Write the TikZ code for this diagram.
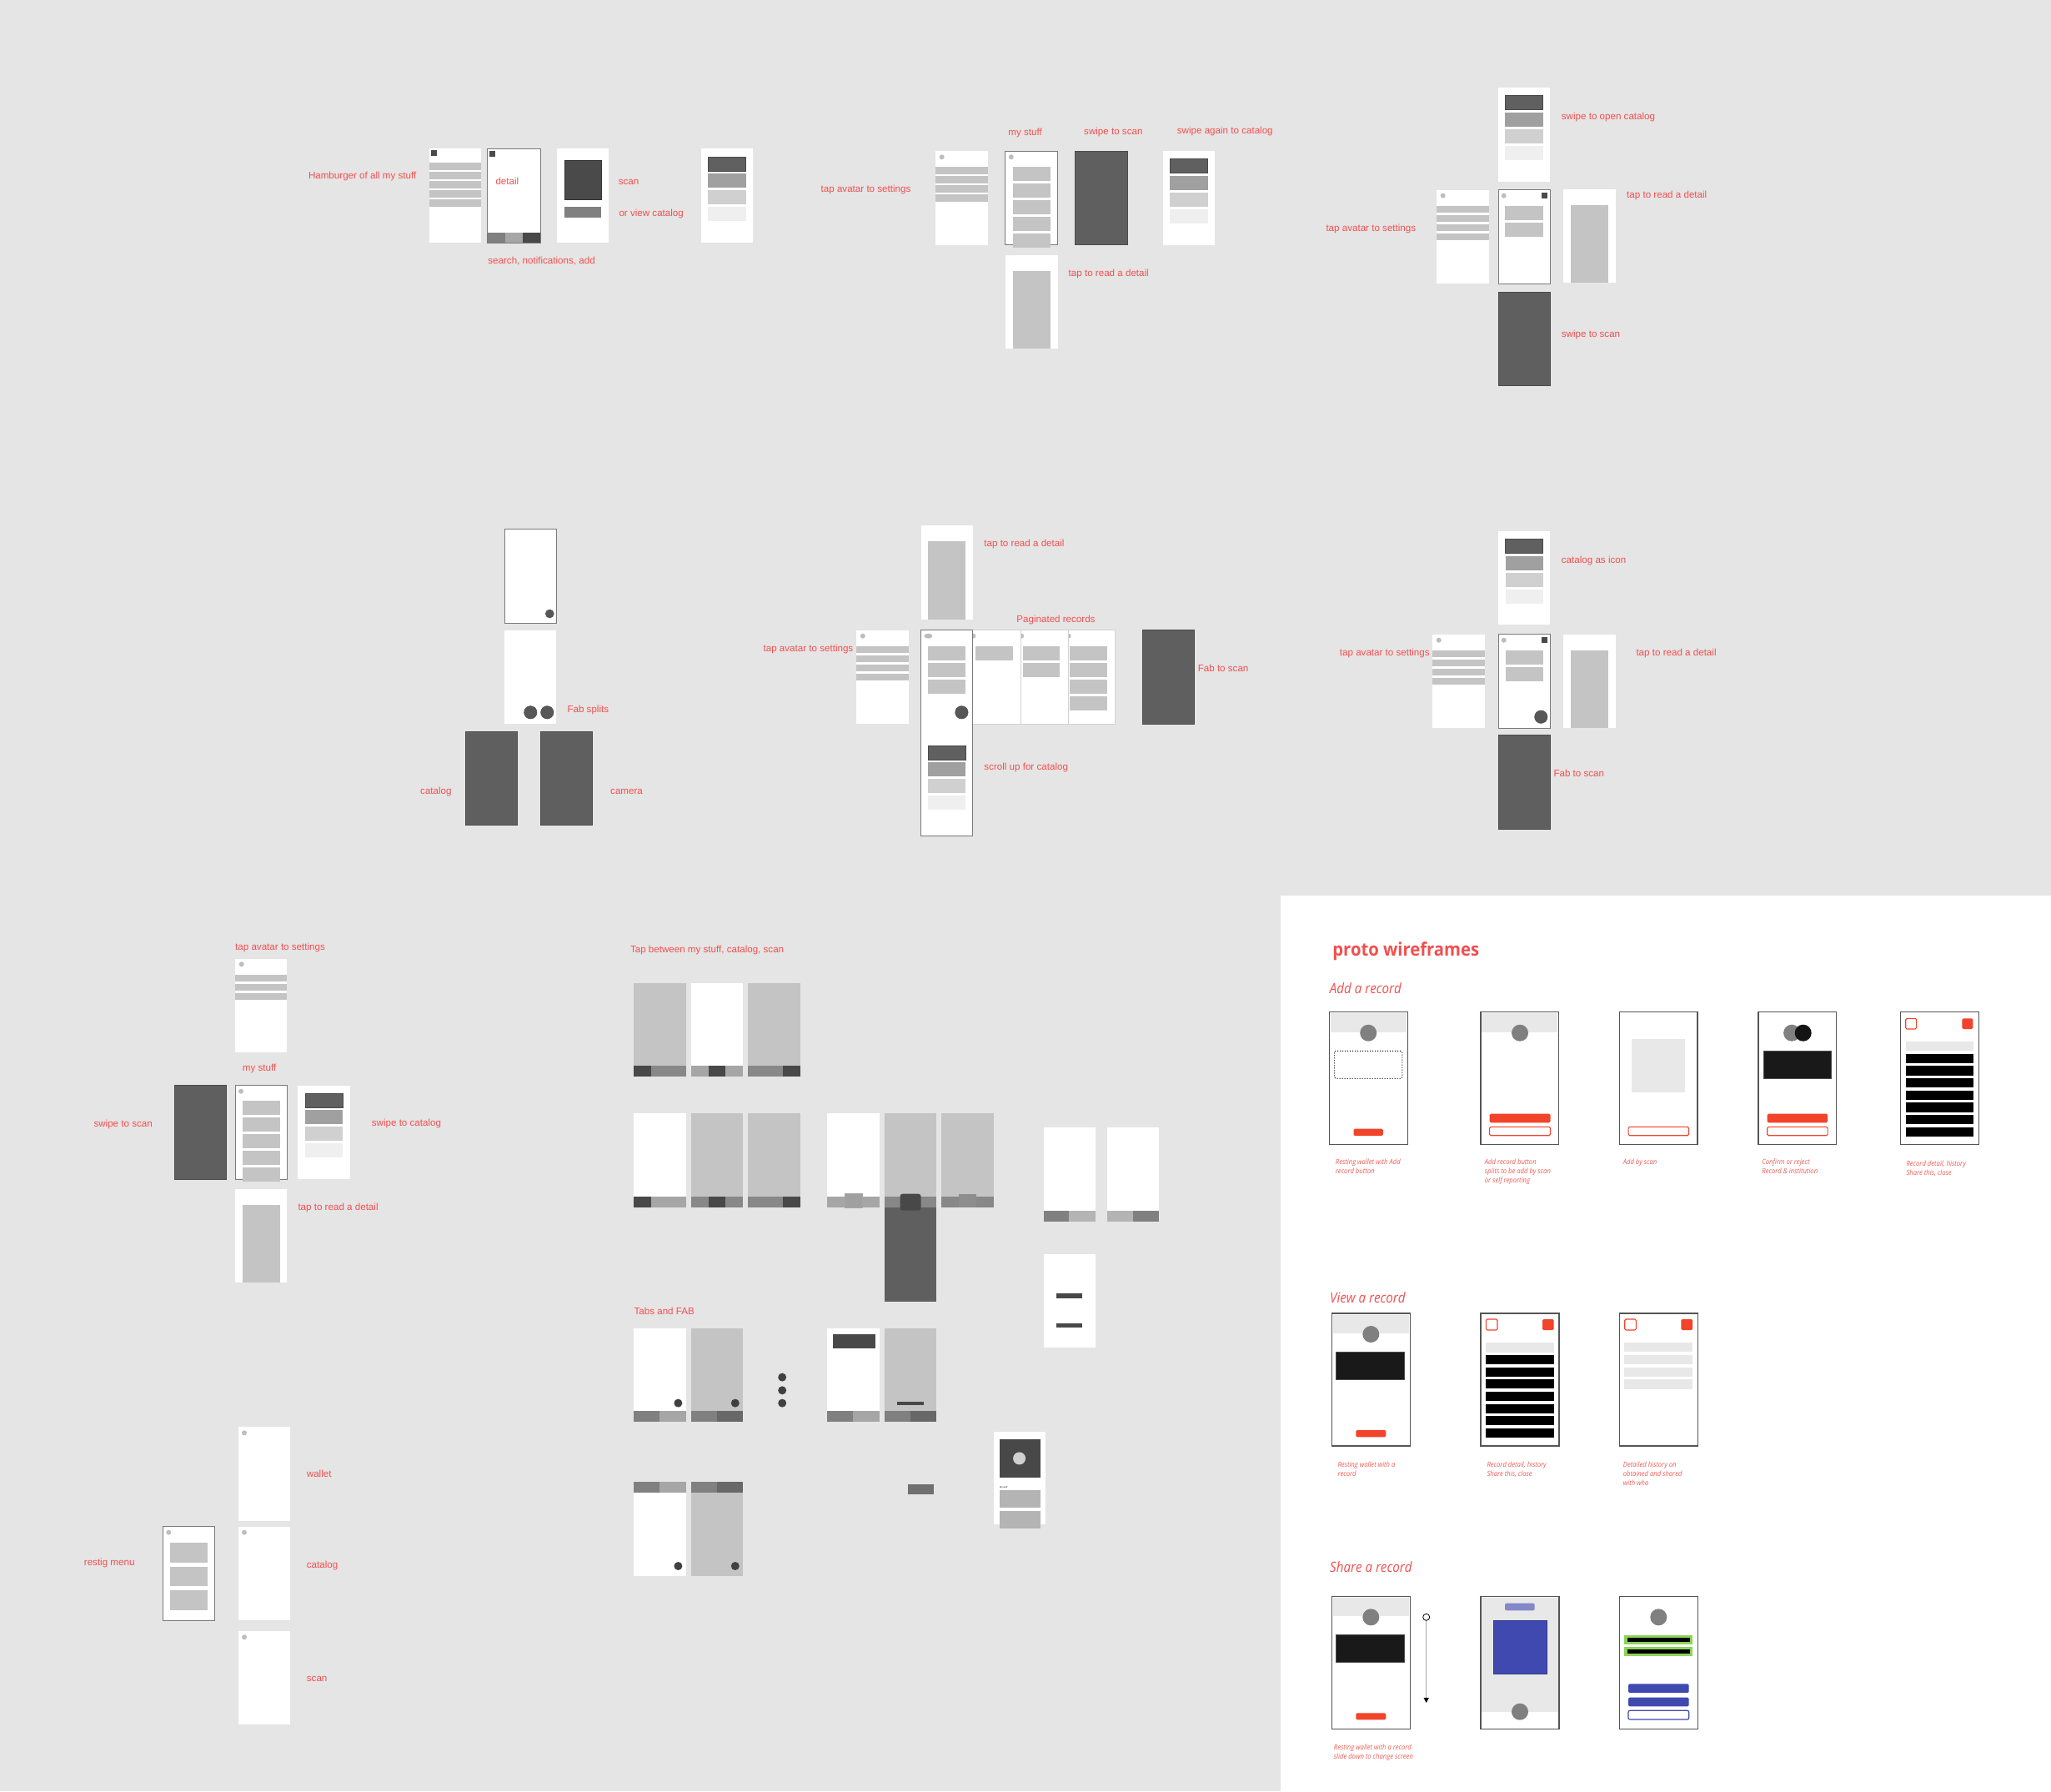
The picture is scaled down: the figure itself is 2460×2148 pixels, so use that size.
\documentclass[tikz,border=0pt]{standalone}
\usepackage{fontspec}
\setmainfont{Liberation Sans}
\newfontfamily\protofont[FakeStretch=0.92]{Open Sans}
\newfontfamily\notefont[FakeStretch=0.89]{Open Sans}
\usetikzlibrary{arrows.meta}
\definecolor{Canvas}{HTML}{E5E5E5}
\definecolor{LabelRed}{HTML}{F24F4F}
\definecolor{BarGray}{HTML}{C4C4C4}
\definecolor{AvatarGray}{HTML}{BDBDBD}
\definecolor{FrameGray}{HTML}{7A7A7A}
\definecolor{ScanGray}{HTML}{5F5F5F}
\definecolor{ScanEdge}{HTML}{4C4C4C}
\definecolor{IconDark}{HTML}{4A4A4A}
\definecolor{CatA}{HTML}{606060}
\definecolor{CatB}{HTML}{A0A0A0}
\definecolor{CatC}{HTML}{D0D0D0}
\definecolor{CatD}{HTML}{EFEFEF}
\definecolor{FabGray}{HTML}{575757}
\definecolor{FabDark}{HTML}{404040}
\definecolor{PageEdge}{HTML}{D2D2D2}
\definecolor{TabDark}{HTML}{484848}
\definecolor{TabMid}{HTML}{888888}
\definecolor{TabMidB}{HTML}{808080}
\definecolor{TabLight}{HTML}{A6A6A6}
\definecolor{TabDeep}{HTML}{686868}
\definecolor{TabPale}{HTML}{B4B4B4}
\definecolor{WireEdge}{HTML}{555555}
\definecolor{HeaderGray}{HTML}{E8E8E8}
\definecolor{DiscGray}{HTML}{808080}
\definecolor{RecordBlack}{HTML}{191919}
\definecolor{ButtonRed}{HTML}{F2432B}
\definecolor{CaptionRed}{HTML}{EE5A52}
\definecolor{ShareBlue}{HTML}{4049B0}
\definecolor{ShareBlueLight}{HTML}{8288C8}
\definecolor{ShareGreen}{HTML}{8CD35A}
\tikzset{
  flowlabel/.style={text=LabelRed, font=\fontsize{11.6}{14}\selectfont, inner sep=0pt, anchor=base west},
  plainscreen/.style={fill=white},
  framedscreen/.style={fill=white, draw=FrameGray, line width=1pt},
  scanscreen/.style={fill=ScanGray, draw=ScanEdge, line width=0.7pt},
  pagescreen/.style={fill=white, draw=PageEdge, line width=1pt},
  greyscreen/.style={fill=BarGray},
  avatar/.style={fill=AvatarGray},
  fab/.style={fill=FabGray, draw=IconDark, line width=0.5pt},
  darkfab/.style={fill=FabDark},
  wirescreen/.style={fill=white, draw=WireEdge, line width=1.3pt},
  wireheader/.style={fill=HeaderGray},
  wiredisc/.style={fill=DiscGray},
  redbutton/.style={fill=ButtonRed, rounded corners=1.5pt},
  redoutline/.style={draw=ButtonRed, line width=1.1pt, fill=white, rounded corners=1.5pt},
  blackbar/.style={fill=black},
  protitle/.style={text=LabelRed, font=\protofont\bfseries\fontsize{22}{26}\selectfont, inner sep=0pt, anchor=base west},
  sectiontitle/.style={text=LabelRed, font=\notefont\itshape\fontsize{17}{19}\selectfont, inner sep=0pt, anchor=base west},
  wirecaption/.style={text=CaptionRed, font=\notefont\itshape\fontsize{8.6}{10.9}\selectfont, inner sep=0pt, anchor=north west, align=left}
}
% settings list: pitch 11, bar height 8.4
\newcommand{\listbars}[4]{\foreach \k in {1,...,#4} \fill[BarGray] (#1,{#3+11*(\k-1)}) rectangle (#2,{#3+11*(\k-1)+8.4});}
% my stuff list: pitch 20, bar height 17
\newcommand{\stackbars}[4]{\foreach \k in {1,...,#4} \fill[BarGray] (#1,{#3+20*(\k-1)}) rectangle (#2,{#3+20*(\k-1)+17});}
% catalog: four shades
\newcommand{\catbars}[3]{%
  \foreach \tone [count=\k from 0] in {CatA,CatB,CatC,CatD} \fill[\tone] (#1,{#3+20*\k}) rectangle (#2,{#3+20*\k+17});
  \draw[IconDark, line width=0.6pt] (#1,#3) rectangle (#2,#3+17);}

\begin{document}
\begin{tikzpicture}[x=1pt, y=-1pt]
\useasboundingbox (0,0) rectangle (2460,2148);
\fill[Canvas] (0,0) rectangle (2460,2148);

% ---- hamburger
\node[flowlabel] (g1-hamburger) at (369.8,214) {Hamburger of all my stuff};
\path[plainscreen] (514.7,178) rectangle (577.1,291);
\fill[IconDark] (516.8,180) rectangle (523.8,187);
\listbars{514.7}{577.1}{195.3}{5}
\path[framedscreen] (584.8,178.3) rectangle (648,291.7);
\fill[IconDark] (587.3,180.5) rectangle (594.3,187.5);
\node[flowlabel] (g1-detail) at (594.3,221.7) {detail};
\fill[TabMidB] (585.3,278.7) rectangle (605.5,291.2);
\fill[TabLight] (605.5,278.7) rectangle (626.6,291.2);
\fill[TabDark] (626.6,278.7) rectangle (647.5,291.2);
\node[flowlabel] (g1-search) at (585.2,316.3) {search, notifications, add};
\path[plainscreen] (667.6,178.3) rectangle (730.4,291);
\filldraw[fill=IconDark, draw=black!80, line width=0.5pt] (677.4,192.3) rectangle (721.3,239);
\fill[TabMidB] (677.4,248) rectangle (721.3,260.7);
\node[flowlabel] (g1-scan) at (741.6,221.3) {scan};
\node[flowlabel] (g1-viewcat) at (742.3,259) {or view catalog};
\path[plainscreen] (840.5,178.3) rectangle (903.3,291);
\catbars{849.3}{894.5}{188}

% ---- swipe row
\node[flowlabel] (g2-avatar) at (984.5,230.7) {tap avatar to settings};
\path[plainscreen] (1122,181) rectangle (1184.8,293.7);
\fill[avatar] (1129.6,188.3) circle[radius=3pt];
\listbars{1122}{1184.8}{200.3}{4}
\path[framedscreen] (1205.6,181) rectangle (1268.8,293.7);
\fill[avatar] (1212.8,188.3) circle[radius=3pt];
\stackbars{1214.6}{1259.7}{200.3}{5}
\node[flowlabel] (g2-mystuff) at (1209.2,162.3) {my stuff};
\path[scanscreen] (1289.5,181) rectangle (1352.4,293.7);
\node[flowlabel] (g2-swipescan) at (1300,161.3) {swipe to scan};
\node[flowlabel] (g2-swipeagain) at (1411.7,160.7) {swipe again to catalog};
\path[plainscreen] (1394.9,181) rectangle (1457.1,293.7);
\catbars{1403.3}{1448.7}{190.7}
\path[plainscreen] (1205.6,305.7) rectangle (1268.8,418.3);
\fill[BarGray] (1214.6,324.7) rectangle (1259.7,418.3);
\node[flowlabel] (g2-read) at (1281.5,331.3) {tap to read a detail};

% ---- cross with catalog on top
\path[plainscreen] (1797,105) rectangle (1859.3,217.7);
\catbars{1805.3}{1850.7}{114.7}
\node[flowlabel] (g3-opencat) at (1872.7,143.3) {swipe to open catalog};
\path[plainscreen] (1723.3,227.7) rectangle (1786,340);
\fill[avatar] (1730.7,234.7) circle[radius=3pt];
\listbars{1723.3}{1786}{247}{4}
\node[flowlabel] (g3-avatar) at (1590.3,277) {tap avatar to settings};
\path[framedscreen] (1797,227.3) rectangle (1859.3,340);
\fill[avatar] (1803.7,234.7) circle[radius=3pt];
\fill[IconDark] (1849,231.3) rectangle (1855.7,238);
\stackbars{1805.3}{1850.7}{247}{2}
\path[plainscreen] (1875.3,226.7) rectangle (1938,339.3);
\fill[BarGray] (1884,245.7) rectangle (1929.3,339.3);
\node[flowlabel] (g3-read) at (1951,237.7) {tap to read a detail};
\path[scanscreen] (1797,350.3) rectangle (1859.3,462.7);
\node[flowlabel] (g3-swipescan) at (1872.7,404) {swipe to scan};

% ---- fab splits
\path[framedscreen] (605,634.3) rectangle (667.3,747);
\path[fab] (659.3,736) circle[radius=5pt];
\path[plainscreen] (605,755.7) rectangle (667.3,867.7);
\path[fab] (636.3,854.3) circle[radius=7.7pt];
\path[fab] (656.3,854.3) circle[radius=7.7pt];
\node[flowlabel] (g4-splits) at (680.3,854.7) {Fab splits};
\path[scanscreen] (558.7,877) rectangle (620.7,989.3);
\path[scanscreen] (648.7,877) rectangle (710.7,989.3);
\node[flowlabel] (g4-catalog) at (504,952.3) {catalog};
\node[flowlabel] (g4-camera) at (732,952.3) {camera};

% ---- paginated records
\path[plainscreen] (1104.8,630) rectangle (1166.8,742.7);
\fill[BarGray] (1113.2,649.3) rectangle (1158.4,742.7);
\node[flowlabel] (g5-read) at (1180.2,655.3) {tap to read a detail};
\node[flowlabel] (g5-pages) at (1219.2,746.3) {Paginated records};
\node[flowlabel] (g5-avatar) at (915.4,781) {tap avatar to settings};
\path[plainscreen] (1027.1,756) rectangle (1089.5,868.3);
\fill[avatar] (1034.8,762.7) circle[radius=3pt];
\listbars{1027.1}{1089.5}{775}{4}
\path[pagescreen] (1281.2,755.7) rectangle (1337.9,868.3);
\fill[avatar] (1281.7,762.7) circle[radius=3pt];
\stackbars{1283.1}{1328.3}{775}{4}
\path[pagescreen] (1224.6,755.7) rectangle (1281.2,868.3);
\fill[avatar] (1225.1,762.7) circle[radius=3pt];
\stackbars{1226.5}{1271.3}{775}{2}
\path[pagescreen] (1166.8,755.7) rectangle (1224.6,868.3);
\fill[avatar] (1167.3,762.7) circle[radius=3pt];
\stackbars{1170.2}{1215.4}{775}{1}
\path[framedscreen] (1104.8,755.7) rectangle (1166.8,1002.3);
\fill[avatar] (1113.4,762.7) ellipse[x radius=5pt, y radius=3pt];
\stackbars{1113.2}{1158.4}{775}{3}
\path[fab] (1153.4,854.3) circle[radius=7.7pt];
\catbars{1113.2}{1158.4}{894.3}
\path[scanscreen] (1370.4,755.7) rectangle (1432.4,868.3);
\node[flowlabel] (g5-fab) at (1436.6,805.7) {Fab to scan};
\node[flowlabel] (g5-scroll) at (1180.2,923) {scroll up for catalog};

% ---- catalog as icon
\path[plainscreen] (1797,636.7) rectangle (1859.3,749.3);
\catbars{1805.7}{1850.7}{646.7}
\node[flowlabel] (g6-icon) at (1872.7,675) {catalog as icon};
\path[plainscreen] (1718.3,760.7) rectangle (1781,873.3);
\fill[avatar] (1725.7,767.7) circle[radius=3pt];
\listbars{1718.3}{1781}{780}{4}
\node[flowlabel] (g6-avatar) at (1606.7,786) {tap avatar to settings};
\path[framedscreen] (1797,760.7) rectangle (1859.3,873.3);
\fill[avatar] (1803.7,767.7) circle[radius=3pt];
\fill[IconDark] (1849,764.3) rectangle (1855.7,771);
\stackbars{1805.7}{1850.7}{780}{2}
\path[fab] (1848.3,859.7) circle[radius=7.7pt];
\path[plainscreen] (1875.3,760.7) rectangle (1937.7,873.3);
\fill[BarGray] (1884,779.7) rectangle (1929.3,873.3);
\node[flowlabel] (g6-read) at (1962.3,786) {tap to read a detail};
\path[scanscreen] (1797,881.7) rectangle (1859.3,994.3);
\node[flowlabel] (g6-fab) at (1863.3,931.7) {Fab to scan};

% ---- my stuff cross
\node[flowlabel] (g7-avatar) at (282,1139.7) {tap avatar to settings};
\path[plainscreen] (282,1149.7) rectangle (344.3,1261.7);
\fill[avatar] (289.7,1156.3) circle[radius=3pt];
\listbars{282}{344.3}{1168.7}{3}
\node[flowlabel] (g7-mystuff) at (290.7,1284.3) {my stuff};
\path[scanscreen] (209.3,1301.7) rectangle (271.7,1414);
\path[framedscreen] (282,1301.7) rectangle (344.3,1414);
\fill[avatar] (289,1308.7) circle[radius=3pt];
\stackbars{291}{335.7}{1320.3}{5}
\path[plainscreen] (357.3,1301.7) rectangle (419.7,1414);
\catbars{366}{411.3}{1311}
\node[flowlabel] (g7-swipescan) at (112.3,1351.7) {swipe to scan};
\node[flowlabel] (g7-swipecat) at (445.7,1350.7) {swipe to catalog};
\path[plainscreen] (282,1426) rectangle (344.3,1538.3);
\fill[BarGray] (291,1445) rectangle (335.7,1538.3);
\node[flowlabel] (g7-read) at (357.3,1451) {tap to read a detail};

% ---- resting menu
\path[plainscreen] (286,1711) rectangle (348.3,1823.7);
\fill[avatar] (293,1718.3) circle[radius=3pt];
\node[flowlabel] (g9-wallet) at (367.7,1771.3) {wallet};
\path[plainscreen] (286,1830.7) rectangle (348.3,1943);
\fill[avatar] (293,1837.7) circle[radius=3pt];
\node[flowlabel] (g9-catalog) at (367.7,1880.7) {catalog};
\path[plainscreen] (286,1956) rectangle (348.3,2068.3);
\fill[avatar] (293,1963.3) circle[radius=3pt];
\node[flowlabel] (g9-scan) at (367.7,2016.7) {scan};
\path[framedscreen] (195.3,1830.3) rectangle (257.7,1943.3);
\fill[avatar] (202.3,1837.7) circle[radius=3pt];
\fill[BarGray] (204,1850) rectangle (249,1874);
\fill[BarGray] (204,1879) rectangle (249,1902.3);
\fill[BarGray] (204,1907) rectangle (249,1931);
\node[flowlabel] (g9-menu) at (100.7,1877.3) {restig menu};

% ---- tabs
\node[flowlabel] (g8-tap) at (755.8,1142.4) {Tap between my stuff, catalog, scan};
\path[greyscreen] (760,1179.1) rectangle (822.6,1291.1);
\fill[TabDark] (760,1278.3) rectangle (780.7,1291.1);
\fill[TabMid] (780.7,1278.3) rectangle (822.6,1291.1);
\path[plainscreen] (828.8,1179.1) rectangle (891,1291.1);
\fill[TabLight] (828.8,1278.3) rectangle (891,1291.1);
\fill[TabDark] (849.5,1278.3) rectangle (870.2,1291.1);
\path[greyscreen] (897.2,1179.1) rectangle (959.8,1291.1);
\fill[TabMid] (897.2,1278.3) rectangle (938.6,1291.1);
\fill[TabDark] (938.6,1278.3) rectangle (959.8,1291.1);

\path[plainscreen] (760,1335.3) rectangle (822.6,1447.8);
\fill[TabDark] (760,1435) rectangle (780.7,1447.8);
\fill[TabLight] (780.7,1435) rectangle (822.6,1447.8);
\path[greyscreen] (828.8,1335.3) rectangle (891,1447.8);
\fill[TabMid] (828.8,1435) rectangle (891,1447.8);
\fill[TabDark] (849.5,1435) rectangle (870.2,1447.8);
\path[greyscreen] (897.2,1335.3) rectangle (959.8,1447.8);
\fill[TabMid] (897.2,1435) rectangle (938.6,1447.8);
\fill[TabDark] (938.6,1435) rectangle (959.8,1447.8);

\path[plainscreen] (992.1,1335.3) rectangle (1054.7,1447.8);
\fill[TabLight] (992.1,1435) rectangle (1054.7,1447.8);
\filldraw[fill=CatB, draw=TabLight, line width=0.5pt] (1012.9,1431.6) rectangle (1034,1447.8);
\path[greyscreen] (1060.5,1335.3) rectangle (1123.1,1447.8);
\fill[TabMid] (1060.5,1435) rectangle (1123.1,1447.8);
\fill[ScanGray] (1060.5,1447.8) rectangle (1123.1,1560.7);
\fill[TabDark, rounded corners=3pt] (1079.6,1431.6) rectangle (1104.5,1451.7);
\path[greyscreen] (1129.4,1335.3) rectangle (1191.5,1447.8);
\fill[TabMid] (1129.4,1435) rectangle (1191.5,1447.8);
\fill[TabMidB!90!white] (1150.1,1431.6) rectangle (1171.2,1447.8);

\path[plainscreen] (1251.7,1352) rectangle (1313.8,1464.5);
\fill[TabMidB] (1251.7,1451.7) rectangle (1282.3,1464.5);
\fill[TabPale] (1282.3,1451.7) rectangle (1313.8,1464.5);
\path[plainscreen] (1327.5,1352) rectangle (1389.7,1464.5);
\fill[TabPale] (1327.5,1451.7) rectangle (1358.6,1464.5);
\fill[TabMidB] (1358.6,1451.7) rectangle (1389.7,1464.5);
\path[plainscreen] (1251.7,1504.3) rectangle (1313.8,1616.2);
\fill[TabDark] (1267,1551.4) rectangle (1298.1,1556.8);
\fill[TabDark] (1267,1586.8) rectangle (1298.1,1592.2);

\node[flowlabel] (g8-fab) at (760.4,1576.5) {Tabs and FAB};
\path[plainscreen] (760,1592.7) rectangle (822.6,1705.2);
\fill[TabMidB] (760,1692.4) rectangle (791,1705.2);
\fill[TabLight] (791,1692.4) rectangle (822.6,1705.2);
\fill[darkfab] (813.4,1682.6) circle[radius=5pt];
\path[greyscreen] (828.8,1592.7) rectangle (891,1705.2);
\fill[TabMidB] (828.8,1692.4) rectangle (859.9,1705.2);
\fill[TabDeep] (859.9,1692.4) rectangle (891,1705.2);
\fill[darkfab] (881.8,1682.6) circle[radius=5pt];
\foreach \dy in {1651.6,1667.3,1682.6} \fill[darkfab] (938.2,\dy) circle[radius=5pt];
\path[plainscreen] (992.1,1592.7) rectangle (1054.7,1705.2);
\filldraw[fill=TabDark, draw=black!70, line width=0.5pt] (999.2,1600.5) rectangle (1049.3,1616.2);
\fill[TabMidB] (992.1,1692.4) rectangle (1023.2,1705.2);
\fill[TabLight] (1023.2,1692.4) rectangle (1054.7,1705.2);
\path[greyscreen] (1060.5,1592.7) rectangle (1123.1,1705.2);
\fill[TabDark] (1076.3,1681) rectangle (1107.8,1685);
\fill[TabMidB] (1060.5,1692.4) rectangle (1091.6,1705.2);
\fill[TabDeep] (1091.6,1692.4) rectangle (1123.1,1705.2);

\path[plainscreen] (760,1777.4) rectangle (822.6,1890.3);
\fill[TabMidB] (760,1777.4) rectangle (791,1790.1);
\fill[TabLight] (791,1777.4) rectangle (822.6,1790.1);
\fill[darkfab] (813.4,1878) circle[radius=5pt];
\path[greyscreen] (828.8,1777.4) rectangle (891,1890.3);
\fill[TabMidB] (828.8,1777.4) rectangle (859.9,1790.1);
\fill[TabDeep] (859.9,1777.4) rectangle (891,1790.1);
\fill[darkfab] (881.8,1878) circle[radius=5pt];
\fill[black!56] (1089.1,1779.8) rectangle (1120.2,1792.1);

\path[plainscreen] (1191.5,1717) rectangle (1254.1,1828.4);
\fill[TabDark] (1198.6,1725.8) rectangle (1247.5,1772);
\fill[CatC] (1222.6,1748.9) circle[radius=7.5pt];
\node[inner sep=0pt, anchor=base west, font=\fontsize{2.6}{3}\selectfont] (g8-tiny) at (1199,1784) {My stuff};
\fill[TabPale] (1198.6,1786.7) rectangle (1247.5,1807.8);
\fill[TabPale] (1198.6,1812.2) rectangle (1247.5,1833.3);

% ---- proto wireframes panel
\fill[white] (1536,1074) rectangle (2460,2148);
\node[protitle] (pw-title) at (1598.2,1146) {proto wireframes};

\node[sectiontitle] (pw-add) at (1594.7,1191) {Add a record};
\path[wirescreen] (1594.7,1213.7) rectangle (1688.3,1372.7);
\fill[wireheader] (1596,1215) rectangle (1687,1238);
\fill[wiredisc] (1641.2,1238.7) circle[radius=10pt];
\draw[black, dotted, line width=1pt, rounded corners=2pt] (1600.6,1260.3) rectangle (1681.8,1293.3);
\fill[redbutton] (1623.5,1353.7) rectangle (1658.8,1362);
\node[wirecaption] (pw-add-1) at (1601.7,1389.5) {Resting wallet with Add\\record button};

\path[wirescreen] (1776,1213.7) rectangle (1869.5,1372.7);
\fill[wireheader] (1777.3,1215) rectangle (1868.2,1238);
\fill[wiredisc] (1823,1238.7) circle[radius=10pt];
\fill[redbutton] (1786.6,1335.7) rectangle (1859.5,1346.3);
\path[redoutline] (1786.6,1351.3) rectangle (1859.5,1361.7);
\node[wirecaption] (pw-add-2) at (1780.7,1389.5) {Add record button\\splits to be add by scan\\or self reporting};

\path[wirescreen] (1942.5,1213.7) rectangle (2036.1,1372.7);
\fill[HeaderGray] (1957.2,1245.7) rectangle (2020.8,1309.7);
\path[redoutline] (1953.1,1351.3) rectangle (2025.5,1361.7);
\node[wirecaption] (pw-add-3) at (1946.6,1389.5) {Add by scan};

\path[wirescreen] (2109.1,1213.7) rectangle (2202.7,1372.7);
\fill[wiredisc] (2149.1,1238.7) circle[radius=10pt];
\fill[black!92] (2162.7,1238.7) circle[radius=10pt];
\filldraw[fill=RecordBlack, draw=black!70, line width=0.6pt] (2115.6,1260.3) rectangle (2196.2,1293.3);
\fill[redbutton] (2119.7,1335.7) rectangle (2192.1,1346.3);
\path[redoutline] (2119.7,1351.3) rectangle (2192.1,1361.7);
\node[wirecaption] (pw-add-4) at (2113.2,1389.5) {Confirm or reject\\Record \& institution};

\path[wirescreen] (2279.8,1213.7) rectangle (2373.4,1372.7);
\path[redoutline] (2285.7,1221.3) rectangle (2298.6,1234);
\fill[redbutton] (2353.4,1221.3) rectangle (2366.3,1234);
\fill[HeaderGray] (2285.7,1249) rectangle (2366.9,1260);
\foreach \k in {0,...,6} \fill[blackbar] (2285.7,{1263.7+14.65*\k}) rectangle (2366.9,{1275+14.65*\k});
\node[wirecaption] (pw-add-5) at (2286.3,1392) {Record detail, history\\Share this, close};

\node[sectiontitle] (pw-view) at (1595,1562) {View a record};
\path[wirescreen] (1597.3,1575) rectangle (1691.3,1734);
\fill[wireheader] (1598.6,1576.7) rectangle (1690,1599);
\fill[wiredisc] (1644.3,1600) circle[radius=10pt];
\filldraw[fill=RecordBlack, draw=black!70, line width=0.6pt] (1602.7,1621.3) rectangle (1684.3,1654);
\fill[redbutton] (1626.3,1715) rectangle (1662.3,1723.3);
\node[wirecaption] (pw-view-1) at (1604.3,1752.5) {Resting wallet with a\\record};

\path[wirescreen] (1776,1575) rectangle (1870,1734);
\path[redoutline] (1782.3,1582) rectangle (1796,1595);
\fill[redbutton] (1850,1582) rectangle (1863.7,1595);
\fill[HeaderGray] (1782.3,1610) rectangle (1863.7,1621.7);
\foreach \k in {0,...,6} \fill[blackbar] (1782.3,{1625+14.67*\k}) rectangle (1863.7,{1636+14.67*\k});
\node[wirecaption] (pw-view-2) at (1783.3,1752.5) {Record detail, history\\Share this, close};

\path[wirescreen] (1942.3,1575) rectangle (2036.7,1734);
\path[redoutline] (1948.7,1582) rectangle (1962.3,1595);
\fill[redbutton] (2016.3,1582) rectangle (2030,1595);
\foreach \by in {1610,1624.7,1639.7,1654.3} \fill[HeaderGray] (1948.3,\by) rectangle (2030,\by+11.3);
\node[wirecaption] (pw-view-3) at (1946.7,1752.5) {Detailed history on\\obtained and shared\\with who};

\node[sectiontitle] (pw-share) at (1595,1885) {Share a record};
\path[wirescreen] (1597.3,1914.3) rectangle (1691.3,2073.3);
\fill[wireheader] (1598.6,1916) rectangle (1690,1938.3);
\fill[wiredisc] (1644.3,1939.3) circle[radius=10pt];
\filldraw[fill=RecordBlack, draw=black!70, line width=0.6pt] (1602.7,1960.3) rectangle (1684.3,1993.3);
\fill[redbutton] (1626.3,2054.3) rectangle (1662.3,2062.3);
\node[wirecaption] (pw-share-1) at (1599.7,2092) {Resting wallet with a record\\slide down to change screen};
\node[circle, draw=black, fill=white, line width=0.8pt, minimum size=8pt, inner sep=0pt] (pw-knob) at (1710.7,1939.3) {};
\coordinate (pw-slide-end) at (1710.7,2042);
\draw[black!35, line width=1.2pt, -{Triangle[length=6pt, width=6pt, color=black]}] (pw-knob) -- (pw-slide-end);

\path[wirescreen] (1776,1914.3) rectangle (1870,2073.3);
\fill[HeaderGray] (1777.3,1915.6) rectangle (1868.7,2052.7);
\fill[ShareBlueLight, rounded corners=2pt] (1805,1922.7) rectangle (1840.7,1931.3);
\filldraw[fill=ShareBlue, draw=ShareBlue!80!black, line width=0.5pt] (1791.3,1943.3) rectangle (1855.7,2007.7);
\fill[wiredisc] (1823,2052.7) circle[radius=10pt];

\path[wirescreen] (1942.3,1914.3) rectangle (2036.7,2073.3);
\fill[wiredisc] (1989.3,1939.3) circle[radius=10pt];
\fill[ShareGreen] (1948.3,1960.7) rectangle (2030,1971.7);
\fill[ShareGreen] (1948.3,1975.3) rectangle (2030,1986.3);
\fill[black] (1951.7,1963.7) rectangle (2026.7,1968.7);
\fill[black] (1951.7,1978.3) rectangle (2026.7,1983.3);
\fill[ShareBlue, rounded corners=2pt] (1953,2019.3) rectangle (2025.7,2030);
\fill[ShareBlue, rounded corners=2pt] (1953,2035.7) rectangle (2025.7,2046.3);
\draw[ShareBlue, line width=1.2pt, fill=white, rounded corners=2pt] (1953,2051.3) rectangle (2025.7,2062);
\end{tikzpicture}
\end{document}
